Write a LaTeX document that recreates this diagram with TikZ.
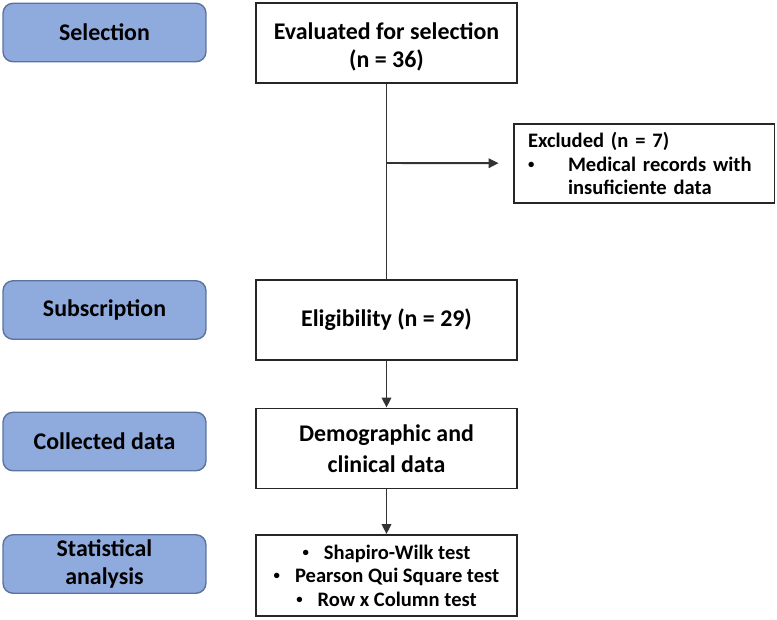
\documentclass[tikz,border=0pt]{standalone}
\usepackage{fontspec}
\setmainfont{Carlito}
\usepackage{tikz}
\usetikzlibrary{arrows.meta,positioning}
\definecolor{StageBlue}{HTML}{8FAADC}
\definecolor{StageEdge}{HTML}{5B739C}
\newcommand{\dotmark}{\raisebox{0.14em}{\scalebox{0.62}{\textbullet}}}

\begin{document}
\begin{tikzpicture}[x=0.02cm, y=-0.02cm, >={Triangle[length=2mm,width=1.9mm]},
  every node/.style={font=\fontsize{13.6}{16}\selectfont\bfseries},
  stage/.style={rectangle, rounded corners=0.2cm, draw=StageEdge, line width=0.8pt, fill=StageBlue, minimum width=4.06cm, minimum height=1.17cm, align=center, inner sep=0pt},
  flowbox/.style={rectangle, draw=black!85, line width=1.1pt, fill=white, minimum width=5.22cm, minimum height=1.6cm, align=center, inner sep=0pt},
  smalltext/.style={font=\fontsize{11.7}{13.4}\selectfont\bfseries},
  link/.style={draw=black!80, line width=1.1pt}]
  \useasboundingbox (0,0) rectangle (777,619);
  % stages on the left
  \node[stage] (sel) at (104.5,32.5) {Selection};
  \node[stage] (sub) at (104.5,310) {Subscription};
  \node[stage] (col) at (104.5,441.5) {Collected data};
  \node[stage] (stat) at (104.5,564) {Statistical\\analysis};
  % flow on the right
  \node[flowbox] (eval) at (386.5,43) {\rule{0pt}{0.5cm}Evaluated for selection\\(n = 36)};
  \node[flowbox] (elig) at (386.5,320) {Eligibility (n = 29)};
  \node[flowbox, font=\fontsize{13.6}{17.5}\selectfont\bfseries] (demo) at (386.5,448.5) {Demographic and\\clinical data};
  \node[flowbox, smalltext, minimum height=1.62cm] (tests) at (386.5,575.5)
    {\dotmark\hspace{0.3cm}Shapiro-Wilk test\\\dotmark\hspace{0.3cm}Pearson Qui Square test\\\dotmark\hspace{0.3cm}Row x Column test};
  \node[flowbox, smalltext, minimum height=1.58cm, align=left, text width=4.64cm, inner xsep=0.28cm] (excl) at (644,163.5)
    {Excluded (n = 7)\\\makebox[0.8cm][l]{\dotmark}Medical records with\\\hspace*{0.8cm}insuficiente data};
  \coordinate (branch) at (386.5,163);
  \draw[link] (eval) -- (elig);
  \draw[link, ->, shorten >=0.28cm] (branch) -- (excl);
  \draw[link, ->] (elig) -- (demo);
  \draw[link, ->] (demo) -- (tests);
\end{tikzpicture}
\end{document}
